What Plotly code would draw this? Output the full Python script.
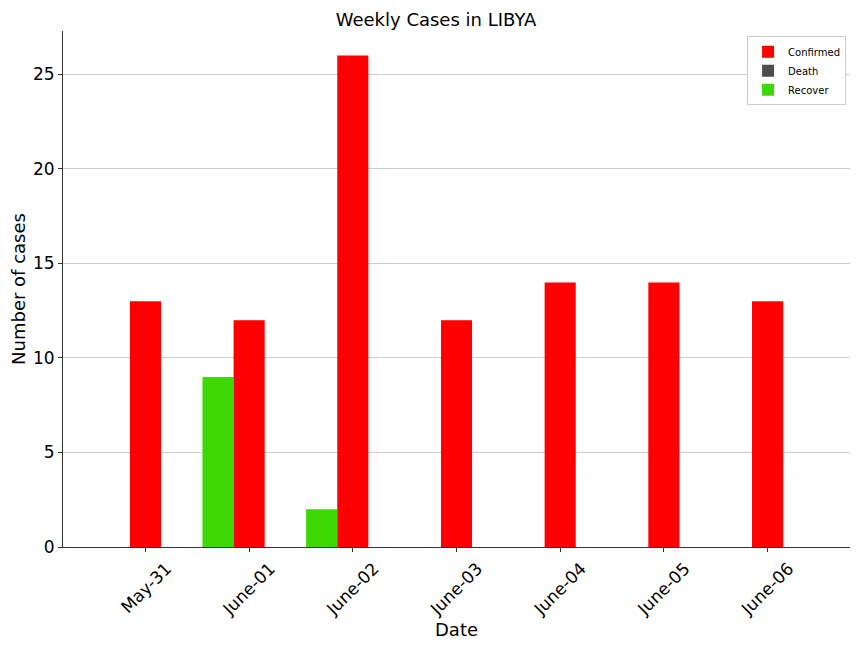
import plotly.graph_objects as go

# weekly case counts
dates = ["May-31", "June-01", "June-02", "June-03", "June-04", "June-05", "June-06"]
confirmed = [13, 12, 26, 12, 14, 14, 13]
death = [0, 0, 0, 0, 0, 0, 0]
recover = [0, 9, 2, 0, 0, 0, 0]

fig = go.Figure()
# trace order sets the position inside each group: Recover left, Confirmed centre, Death right
fig.add_trace(go.Bar(x=dates, y=recover, name="Recover", marker_color="#3dd805", legendrank=3))
fig.add_trace(go.Bar(x=dates, y=confirmed, name="Confirmed", marker_color="#ff0000", legendrank=1))
fig.add_trace(go.Bar(x=dates, y=death, name="Death", marker_color="#4d4d4d", legendrank=2))
fig.update_traces(marker_line_width=0)

# page body has an 8px margin, so the figure is a bit smaller than the window
fig.update_layout(
    width=856, height=640,
    barmode="group", bargap=0.1, bargroupgap=0,
    plot_bgcolor="white", paper_bgcolor="white",
    font=dict(family="DejaVu Sans", color="black"),
    margin=dict(l=55, r=14, t=23, b=101),
    title=dict(text="Weekly Cases in LIBYA", x=0.5, xanchor="center", y=0.982, yanchor="middle",
               font=dict(size=18)),
    legend=dict(x=0.995, y=0.99, xanchor="right", yanchor="top", font=dict(size=10),
                bordercolor="#cccccc", borderwidth=1, bgcolor="white",
                itemwidth=30, tracegroupgap=0),
)
fig.update_xaxes(
    range=[-0.795, 6.795], showline=True, linecolor="#333333", linewidth=1,
    ticks="outside", ticklen=4, tickcolor="#333333", tickangle=-45,
    tickfont=dict(size=17), showgrid=False, ticklabelshift=21, automargin=False,
    title=dict(text="Date", font=dict(size=18), standoff=2),
)
fig.update_yaxes(
    range=[0, 27.3], showline=True, linecolor="#333333", linewidth=1,
    ticks="outside", ticklen=4, tickcolor="#333333", dtick=5,
    tickfont=dict(size=17), showgrid=True, gridcolor="#cccccc", gridwidth=1,
    zeroline=False, automargin=False,
    title=dict(text="Number of cases", font=dict(size=18), standoff=8),
)

fig.write_html("out.html")
